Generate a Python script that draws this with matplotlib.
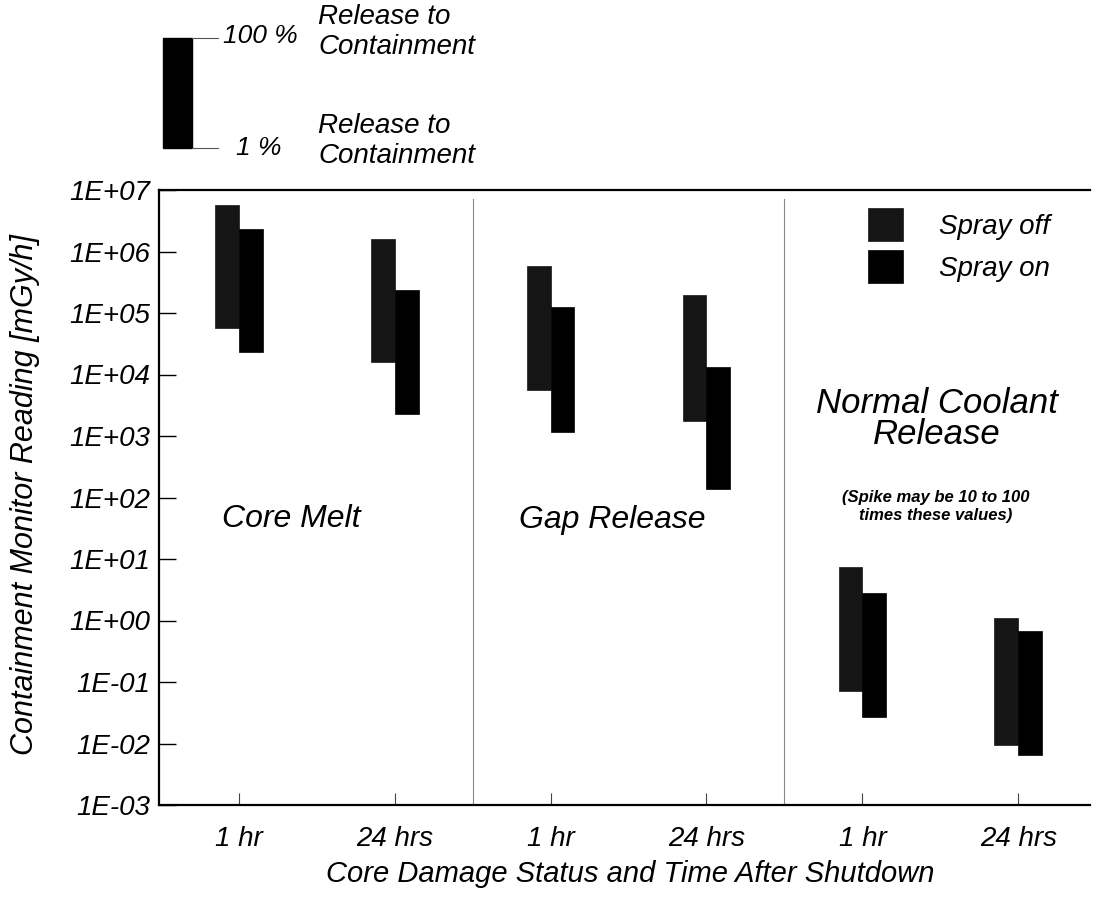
import matplotlib
matplotlib.use("Agg")
import matplotlib.pyplot as plt
import numpy as np
from matplotlib.patches import Rectangle
from matplotlib.lines import Line2D

plt.rcParams['font.family'] = ['Liberation Sans', 'DejaVu Sans']
plt.rcParams['font.style'] = 'italic'

# ---- data ----
categories = ['1 hr', '24 hrs', '1 hr', '24 hrs', '1 hr', '24 hrs']
groups = ['Core Melt', 'Gap Release', 'Normal Coolant\nRelease']
off_high = [5.7e6, 1.58e6, 5.8e5, 1.96e5, 7.5, 1.09]
off_low = [5.6e4, 1.58e4, 5.6e3, 1.77e3, 0.072, 0.0095]
on_high = [2.3e6, 2.37e5, 1.27e5, 1.34e4, 2.83, 0.67]
on_low = [2.3e4, 2.25e3, 1.16e3, 1.4e2, 0.0273, 0.0065]
ytick_vals = [1e-3, 1e-2, 1e-1, 1e0, 1e1, 1e2, 1e3, 1e4, 1e5, 1e6, 1e7]
ytick_labels = ['1E-03', '1E-02', '1E-01', '1E+00', '1E+01', '1E+02',
                '1E+03', '1E+04', '1E+05', '1E+06', '1E+07']

W, H = 1093, 902
fig = plt.figure(figsize=(W / 100, H / 100), dpi=100)
ax = fig.add_axes([159.3 / W, 1 - 805 / H, (1090 - 159.3) / W, (805 - 190) / H])

x = np.arange(len(categories))
w = 0.153
off_h = np.array(off_high); off_l = np.array(off_low)
on_h = np.array(on_high); on_l = np.array(on_low)
b1 = ax.bar(x - w / 2, off_h - off_l, bottom=off_l, width=w, color='#151515',
            edgecolor='#151515', linewidth=0.5, label='Spray off')
b2 = ax.bar(x + w / 2, on_h - on_l, bottom=on_l, width=w, color='black',
            edgecolor='black', linewidth=0.5, label='Spray on')

ax.set_yscale('log')
ax.set_ylim(1e-3, 1e7)
ax.set_xlim(-0.51, 5.46)
ax.set_yticks(ytick_vals)
ax.set_yticklabels(ytick_labels)
ax.yaxis.set_minor_locator(matplotlib.ticker.NullLocator())
ax.set_xticks(x)
ax.set_xticklabels(categories)

ax.tick_params(axis='y', direction='in', length=12, width=1, pad=6.5, labelsize=20)
ax.tick_params(axis='x', direction='in', length=9, width=0.8, pad=15, labelsize=20,
               color='#444444')
for lab in ax.get_xticklabels() + ax.get_yticklabels():
    lab.set_fontstyle('italic')

ax.spines['right'].set_visible(False)
for s in ['left', 'bottom', 'top']:
    ax.spines[s].set_linewidth(1.6)

# group dividers
for xd in [1.5, 3.5]:
    ax.axvline(xd, color='#888888', linewidth=0.8, ymax=0.985)

# group labels
ax.text(-0.11, 44.7, groups[0], fontsize=23, ha='left', va='center', style='italic')
ax.text(1.80, 43, groups[1], fontsize=23, ha='left', va='center', style='italic')
ax.text(4.477, 1890, groups[2], fontsize=25, ha='center', va='center', style='italic',
        linespacing=0.95)
ax.text(4.47, 71.4, '(Spike may be 10 to 100\ntimes these values)', fontsize=12,
        ha='center', va='center', style='italic', weight='bold', linespacing=1.3)

ax.set_ylabel('Containment Monitor Reading [mGy/h]', fontsize=22, style='italic')
ax.yaxis.set_label_coords(-0.128, 0.505)
ax.set_xlabel('Core Damage Status and Time After Shutdown', fontsize=21, style='italic')
ax.xaxis.set_label_coords(0.506, -0.0894)

leg = ax.legend(handles=[b1, b2], loc='upper left',
                bbox_to_anchor=((868 - 159.3) / 930.7, 1 - (208 - 190) / 615),
                frameon=False, fontsize=20, handlelength=1.26, handleheight=1.47,
                handletextpad=1.3, labelspacing=0.3, borderpad=0, borderaxespad=0)
for t in leg.get_texts():
    t.set_fontstyle('italic')

# top-left key (range meaning of a bar)
def fx(px):
    return px / W

def fy(py):
    return 1 - py / H

fig.patches.append(Rectangle((fx(162.7), fy(148.3)), fx(191.7) - fx(162.7),
                             fy(38.3) - fy(148.3), transform=fig.transFigure,
                             facecolor='black', edgecolor='black'))
for py in [38.3, 148.3]:
    fig.lines.append(Line2D([fx(191.7), fx(218)], [fy(py), fy(py)],
                            transform=fig.transFigure, color='#555555', linewidth=0.8))
fig.text(fx(298), fy(36), '100 %', fontsize=19, ha='right', va='center', style='italic')
fig.text(fx(281), fy(148), '1 %', fontsize=19, ha='right', va='center', style='italic')
fig.text(fx(318), fy(32), 'Release to\nContainment', fontsize=20, ha='left',
         va='center', style='italic', linespacing=1.22)
fig.text(fx(318), fy(141), 'Release to\nContainment', fontsize=20, ha='left',
         va='center', style='italic', linespacing=1.22)

fig.savefig('out.png', dpi=100)
